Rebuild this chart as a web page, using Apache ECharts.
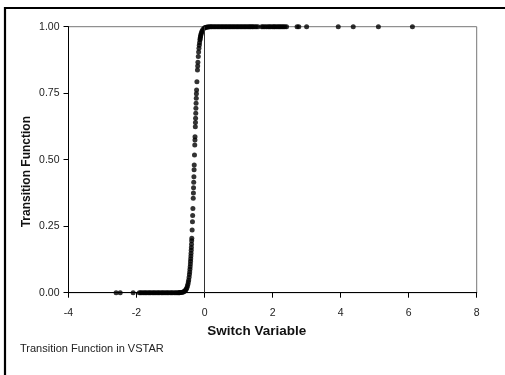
<!DOCTYPE html>
<html>
<head>
<meta charset="utf-8">
<script src="https://cdn.jsdelivr.net/npm/echarts@6/dist/echarts.min.js"></script>
<style>
  html, body { margin: 0; padding: 0; background: #fff; }
  #chart { width: 505px; height: 375px; }
</style>
</head>
<body>
<div id="chart"></div>
<script>
// Switch variable values (x) and the fitted logistic transition function (y)
var switchLow = [-2.60, -2.48, -2.10, -1.92, -1.88, -1.84, -1.79, -1.75, -1.71, -1.66, -1.62, -1.58,
  -1.53, -1.49, -1.45, -1.40, -1.36, -1.32, -1.27, -1.23, -1.19, -1.14, -1.10, -1.06, -1.01,
  -0.97, -0.93, -0.88, -0.84, -0.80, -0.76, -0.74];
var transLow = [0, 0, 0, 0, 0, 0, 0, 0, 0, 0, 0, 0,
  0, 0, 0, 0, 0, 0, 0, 0, 0, 0, 0, 0, 0,
  0, 0, 0, 0, 0, 0, 0.0002];

var switchMid = [-0.722, -0.684, -0.654, -0.627, -0.600, -0.575, -0.555, -0.536, -0.519, -0.504,
  -0.490, -0.477, -0.466, -0.455, -0.445, -0.437, -0.430, -0.423, -0.417, -0.412, -0.407,
  -0.402, -0.397, -0.392, -0.388, -0.384, -0.379, -0.375, -0.365, -0.356, -0.350, -0.343,
  -0.333, -0.328, -0.324, -0.319, -0.314, -0.308, -0.304, -0.296, -0.288, -0.283, -0.281,
  -0.272, -0.268, -0.264, -0.259, -0.255, -0.250, -0.244, -0.240, -0.235, -0.225, -0.209,
  -0.203, -0.196, -0.185, -0.175, -0.165, -0.156, -0.147, -0.136, -0.130, -0.123, -0.116,
  -0.107, -0.096, -0.084, -0.068, -0.045, -0.006];
var transMid = [0.0005, 0.001, 0.0017, 0.0028, 0.0045, 0.007, 0.010, 0.014, 0.019, 0.025,
  0.032, 0.040, 0.048, 0.058, 0.068, 0.078, 0.088, 0.098, 0.108, 0.118, 0.128,
  0.138, 0.148, 0.160, 0.170, 0.182, 0.195, 0.205, 0.236, 0.267, 0.290, 0.317,
  0.355, 0.375, 0.395, 0.415, 0.436, 0.462, 0.480, 0.518, 0.555, 0.574, 0.586,
  0.624, 0.640, 0.656, 0.675, 0.693, 0.712, 0.731, 0.748, 0.762, 0.793, 0.837,
  0.852, 0.866, 0.888, 0.905, 0.919, 0.930, 0.940, 0.950, 0.955, 0.960, 0.965,
  0.970, 0.975, 0.980, 0.985, 0.990, 0.995];

var switchHigh = [0.02, 0.05, 0.08, 0.11, 0.14, 0.18, 0.21, 0.25, 0.29, 0.33, 0.37, 0.41, 0.45,
  0.49, 0.53, 0.57, 0.61, 0.65, 0.69, 0.73, 0.77, 0.81, 0.85, 0.89, 0.93, 0.97, 1.01,
  1.05, 1.09, 1.13, 1.17, 1.21, 1.25, 1.29, 1.33, 1.36, 1.40, 1.43, 1.48, 1.52, 1.57,
  1.68, 1.72, 1.77, 1.82, 1.87, 1.91, 1.95, 2.00, 2.04, 2.07, 2.12, 2.16, 2.20, 2.24,
  2.28, 2.32, 2.36, 2.41, 2.72, 2.77, 3.00, 3.93, 4.37, 5.11, 6.11];
var transHigh = [0.997, 0.998, 0.999, 0.999, 1, 1, 1, 1, 1, 1, 1, 1, 1,
  1, 1, 1, 1, 1, 1, 1, 1, 1, 1, 1, 1, 1, 1,
  1, 1, 1, 1, 1, 1, 1, 1, 1, 1, 1, 1, 1, 1,
  1, 1, 1, 1, 1, 1, 1, 1, 1, 1, 1, 1, 1, 1,
  1, 1, 1, 1, 1, 1, 1, 1, 1, 1, 1];

var xTicks = [-4, -2, 0, 2, 4, 6, 8];
var yTicks = [0, 0.25, 0.5, 0.75, 1];

var switchVar = switchLow.concat(switchMid, switchHigh);
var transFn = transLow.concat(transMid, transHigh);
var points = switchVar.map(function (x, i) { return [x, transFn[i]]; });

var FONT = '"Liberation Sans", Arial, sans-serif';
var chart = echarts.init(document.getElementById('chart'), null, { renderer: 'canvas' });

chart.setOption({
  backgroundColor: '#ffffff',
  animation: false,
  grid: {
    left: 68.5, right: 28.3, top: 26.7, bottom: 82.3,
    show: true, borderColor: '#777', borderWidth: 1, backgroundColor: 'transparent'
  },
  xAxis: {
    type: 'value',
    min: xTicks[0], max: xTicks[xTicks.length - 1], interval: 2,
    axisLine: { show: true, onZero: false, lineStyle: { color: '#000', width: 1 } },
    axisTick: { show: true, inside: false, length: 5, lineStyle: { color: '#000' } },
    axisLabel: { color: '#222', fontFamily: FONT, fontSize: 10.5, margin: 15 },
    splitLine: { show: false }
  },
  yAxis: {
    type: 'value',
    min: yTicks[0], max: yTicks[yTicks.length - 1], interval: 0.25,
    axisLine: { show: true, onZero: false, lineStyle: { color: '#000', width: 1 } },
    axisTick: { show: true, inside: false, length: 5, lineStyle: { color: '#000' } },
    axisLabel: {
      color: '#222', fontFamily: FONT, fontSize: 10.5, margin: 9,
      formatter: function (v) { return v.toFixed(2); }
    },
    splitLine: { show: false }
  },
  series: [{
    type: 'scatter',
    data: points,
    symbol: 'circle',
    symbolSize: 5,
    itemStyle: { color: '#000' },
    silent: true,
    markLine: {
      silent: true,
      symbol: ['none', 'none'],
      label: { show: false },
      lineStyle: { color: '#333', width: 1, type: 'solid' },
      data: [{ xAxis: 0 }]
    },
    z: 3
  }],
  graphic: [
    {
      type: 'rect', silent: true,
      shape: { x: 5, y: 8, width: 620, height: 500 },
      style: { fill: 'none', stroke: '#000', lineWidth: 2.2 }
    },
    {
      type: 'text', silent: true,
      x: 256.7, y: 331,
      style: {
        text: 'Switch Variable', fill: '#111',
        font: 'bold 13.5px ' + FONT, textAlign: 'center', textVerticalAlign: 'middle'
      }
    },
    {
      type: 'text', silent: true,
      x: 26.7, y: 171.7, rotation: Math.PI / 2,
      style: {
        text: 'Transition Function', fill: '#111',
        font: 'bold 12px ' + FONT, textAlign: 'center', textVerticalAlign: 'middle'
      }
    },
    {
      type: 'text', silent: true,
      x: 20, y: 349,
      style: {
        text: 'Transition Function in VSTAR', fill: '#222',
        font: '11px ' + FONT, textAlign: 'left', textVerticalAlign: 'middle'
      }
    }
  ]
});
</script>
</body>
</html>
